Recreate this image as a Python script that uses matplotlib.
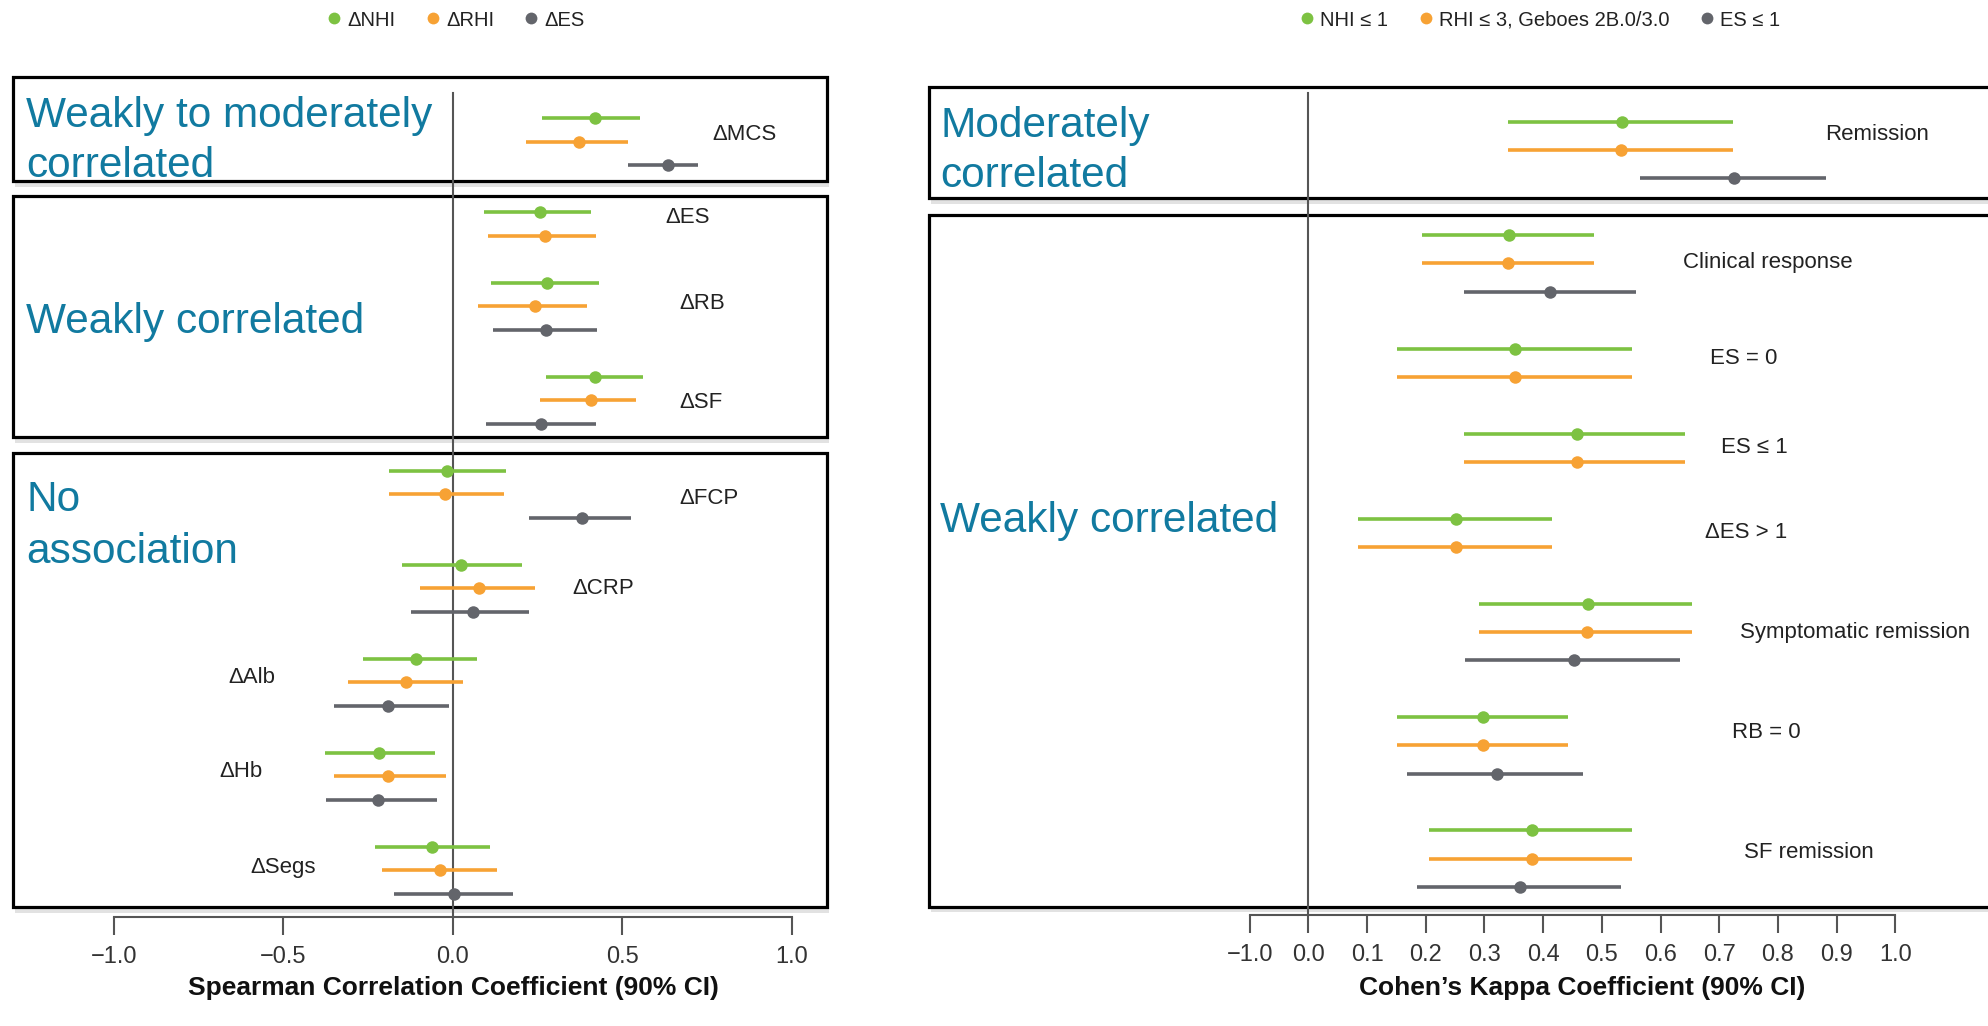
import numpy as np
import matplotlib
matplotlib.use('Agg')
import matplotlib.pyplot as plt
from matplotlib.patches import Rectangle
from matplotlib.lines import Line2D
import matplotlib.patheffects as pe

plt.rcParams['font.family'] = ['Liberation Sans', 'DejaVu Sans']

# ---------------- data ----------------
left_categories = ['ΔMCS', 'ΔES', 'ΔRB', 'ΔSF', 'ΔFCP', 'ΔCRP', 'ΔAlb', 'ΔHb', 'ΔSegs']
left_series = ['ΔNHI', 'ΔRHI', 'ΔES']
left_nhi_est = [0.421, 0.258, 0.278, 0.420, -0.018, 0.024, -0.107, -0.218, -0.061]
left_nhi_lo = [0.264, 0.092, 0.113, 0.274, -0.188, -0.150, -0.265, -0.378, -0.228]
left_nhi_hi = [0.553, 0.409, 0.431, 0.560, 0.158, 0.205, 0.071, -0.052, 0.111]
left_rhi_est = [0.374, 0.271, 0.242, 0.407, -0.022, 0.078, -0.137, -0.191, -0.038]
left_rhi_lo = [0.216, 0.103, 0.075, 0.258, -0.188, -0.097, -0.309, -0.350, -0.209]
left_rhi_hi = [0.517, 0.424, 0.397, 0.540, 0.152, 0.244, 0.030, -0.019, 0.130]
left_es_est = [0.635, np.nan, 0.274, 0.260, 0.381, 0.061, -0.192, -0.219, 0.005]
left_es_lo = [0.518, np.nan, 0.118, 0.097, 0.226, -0.122, -0.351, -0.375, -0.172]
left_es_hi = [0.724, np.nan, 0.427, 0.423, 0.525, 0.226, -0.012, -0.047, 0.179]
left_ticks = [-1.0, -0.5, 0.0, 0.5, 1.0]
left_ticklabels = ['−1.0', '−0.5', '0.0', '0.5', '1.0']
left_groups = ['Weakly to moderately\ncorrelated', 'Weakly correlated', 'No\nassociation']

right_categories = ['Remission', 'Clinical response', 'ES = 0', 'ES ≤ 1', 'ΔES > 1',
                    'Symptomatic remission', 'RB = 0', 'SF remission']
right_series = ['NHI ≤ 1', 'RHI ≤ 3, Geboes 2B.0/3.0', 'ES ≤ 1']
right_nhi_est = [0.534, 0.342, 0.352, 0.457, 0.251, 0.476, 0.297, 0.381]
right_nhi_lo = [0.341, 0.194, 0.151, 0.266, 0.084, 0.291, 0.151, 0.206]
right_nhi_hi = [0.723, 0.486, 0.552, 0.641, 0.415, 0.653, 0.442, 0.551]
right_rhi_est = [0.533, 0.341, 0.352, 0.457, 0.251, 0.475, 0.297, 0.381]
right_rhi_lo = [0.341, 0.194, 0.151, 0.266, 0.084, 0.291, 0.151, 0.206]
right_rhi_hi = [0.723, 0.486, 0.552, 0.641, 0.415, 0.653, 0.442, 0.551]
right_es_est = [0.725, 0.411, np.nan, np.nan, np.nan, 0.453, 0.321, 0.361]
right_es_lo = [0.565, 0.266, np.nan, np.nan, np.nan, 0.267, 0.168, 0.186]
right_es_hi = [0.882, 0.558, np.nan, np.nan, np.nan, 0.634, 0.468, 0.532]
right_ticks = [-0.1, 0.0, 0.1, 0.2, 0.3, 0.4, 0.5, 0.6, 0.7, 0.8, 0.9, 1.0]
right_ticklabels = ['−1.0', '0.0', '0.1', '0.2', '0.3', '0.4', '0.5', '0.6', '0.7', '0.8', '0.9', '1.0']
right_groups = ['Moderately\ncorrelated', 'Weakly correlated']

colors = ['#7dc242', '#f7a234', '#63656b']
blue = '#117aa0'

# ---------------- layout helpers ----------------
W, H = 1988, 1026
fig = plt.figure(figsize=(W / 100, H / 100), dpi=100)


def fx(px):
    return px / W


def fy(py):
    return 1 - py / H


def assign_rows(est_lists):
    n = len(est_lists[0])
    rows = [np.full(n, np.nan) for _ in est_lists]
    starts = []
    cur = 0
    for i in range(n):
        starts.append(cur)
        for s, est in enumerate(est_lists):
            if not np.isnan(est[i]):
                rows[s][i] = cur
                cur += 1
        cur += 1
    return rows, starts


def draw_series(ax, rows, est, lo, hi, color):
    rows = np.asarray(rows, float)
    est = np.asarray(est, float)
    lo = np.asarray(lo, float)
    hi = np.asarray(hi, float)
    m = ~np.isnan(est)
    ax.hlines(rows[m], lo[m], hi[m], color=color, lw=2.6, zorder=4)
    ax.plot(est[m], rows[m], 'o', color=color, ms=9, zorder=5, mec='none')


def draw_box(ax, x0, x1, y0, y1):
    r = Rectangle((x0, y0), x1 - x0, y1 - y0, fc='white', ec='black', lw=2.3,
                  zorder=1, clip_on=False,
                  path_effects=[pe.SimplePatchShadow(offset=(1.5, -4), shadow_rgbFace='#cfcfcf', alpha=0.6),
                                pe.Normal()])
    ax.add_patch(r)


def style_xaxis(ax, ticks, labels, bounds, outward_px):
    for s in ['left', 'right', 'top']:
        ax.spines[s].set_visible(False)
    ax.spines['bottom'].set_position(('outward', outward_px * 0.72))
    ax.spines['bottom'].set_bounds(*bounds)
    ax.spines['bottom'].set_color('#555555')
    ax.spines['bottom'].set_linewidth(1.5)
    ax.set_xticks(ticks)
    ax.set_xticklabels(labels)
    ax.set_yticks([])
    ax.tick_params(axis='x', direction='out', length=13, width=1.5, color='#555555',
                   labelsize=17, labelcolor='#333333', pad=8)
    ax.patch.set_alpha(0)


# ---------------- left panel ----------------
LX0, LUNIT, LROW0, LROWH = 452.7, 339.0, 118.0, 23.5
lx = lambda px: (px - LX0) / LUNIT
ly = lambda py: (py - LROW0) / LROWH

axL = fig.add_axes([fx(13), fy(907), (827 - 13) / W, (907 - 77) / H])
axL.set_xlim(lx(13), lx(827))
axL.set_ylim(ly(907), ly(77))

for (t, b) in [(77, 181), (195.5, 437.3), (452.7, 907)]:
    draw_box(axL, lx(13), lx(827), ly(t), ly(b))

rowsL, startsL = assign_rows([left_nhi_est, left_rhi_est, left_es_est])
for r, e, lo, hi, c in zip(rowsL,
                           [left_nhi_est, left_rhi_est, left_es_est],
                           [left_nhi_lo, left_rhi_lo, left_es_lo],
                           [left_nhi_hi, left_rhi_hi, left_es_hi], colors):
    draw_series(axL, r, e, lo, hi, c)

axL.plot([0, 0], [ly(93), ly(916.7)], color='#555555', lw=1.5, zorder=3, clip_on=False)

left_label_x = [0.765, 0.626, 0.668, 0.668, 0.668, 0.352, -0.663, -0.689, -0.598]
left_label_off = [0.72, 0.24, 0.9, 1.1, 1.2, 1.0, 0.8, 0.8, 0.9]
for cat, xx, off, st in zip(left_categories, left_label_x, left_label_off, startsL):
    axL.text(xx, st + off, cat, ha='left', va='center', fontsize=16, color='#222222', zorder=6)

style_xaxis(axL, left_ticks, left_ticklabels, (-1, 1), 9.7)

# ---------------- right panel ----------------
RX0, RUNIT, RROW0, RROWH = 1308.3, 587.0, 121.7, 28.35
rx = lambda px: (px - RX0) / RUNIT
ry = lambda py: (py - RROW0) / RROWH

axR = fig.add_axes([fx(929), fy(906.7), (1988 - 929) / W, (906.7 - 87) / H])
axR.set_xlim(rx(929), rx(1988))
axR.set_ylim(ry(906.7), ry(87))

for (t, b) in [(87, 198.3), (215, 906.7)]:
    draw_box(axR, rx(929), rx(2010), ry(t), ry(b))

rowsR, startsR = assign_rows([right_nhi_est, right_rhi_est, right_es_est])
for r, e, lo, hi, c in zip(rowsR,
                           [right_nhi_est, right_rhi_est, right_es_est],
                           [right_nhi_lo, right_rhi_lo, right_es_lo],
                           [right_nhi_hi, right_rhi_hi, right_es_hi], colors):
    draw_series(axR, r, e, lo, hi, c)

axR.plot([0, 0], [ry(93.3), ry(915)], color='#555555', lw=1.5, zorder=3, clip_on=False)

right_label_x = [0.880, 0.638, 0.684, 0.703, 0.675, 0.736, 0.721, 0.742]
right_label_off = [0.45, 0.98, 0.35, 0.49, 0.5, 1.0, 0.53, 0.77]
for cat, xx, off, st in zip(right_categories, right_label_x, right_label_off, startsR):
    axR.text(xx, st + off, cat, ha='left', va='center', fontsize=16, color='#222222', zorder=6)

style_xaxis(axR, right_ticks, right_ticklabels, (-0.1, 1.0), 8.3)

# ---------------- group labels ----------------
GFS = 30.5
fig.text(fx(26), fy(126.7), left_groups[0].split('\n')[0], fontsize=GFS, color=blue, va='baseline')
fig.text(fx(26), fy(176.7), left_groups[0].split('\n')[1], fontsize=GFS, color=blue, va='baseline')
fig.text(fx(26), fy(333.5), left_groups[1], fontsize=GFS, color=blue, va='baseline')
fig.text(fx(26), fy(510.7), left_groups[2].split('\n')[0], fontsize=GFS, color=blue, va='baseline')
fig.text(fx(26), fy(562.7), left_groups[2].split('\n')[1], fontsize=GFS, color=blue, va='baseline')

fig.text(fx(940), fy(137), right_groups[0].split('\n')[0], fontsize=GFS, color=blue, va='baseline')
fig.text(fx(940), fy(187), right_groups[0].split('\n')[1], fontsize=GFS, color=blue, va='baseline')
fig.text(fx(940), fy(532), right_groups[1], fontsize=GFS, color=blue, va='baseline')

# ---------------- legends ----------------
def make_legend(labels, cx):
    handles = [Line2D([], [], ls='', marker='o', color=c, ms=8.5, mec='none') for c in colors]
    leg = fig.legend(handles, labels, loc='center', bbox_to_anchor=(fx(cx), fy(20)),
                     bbox_transform=fig.transFigure, ncol=3, frameon=False, fontsize=14.5,
                     handlelength=0.7, handletextpad=0.3, columnspacing=1.5,
                     borderaxespad=0, borderpad=0)
    for t in leg.get_texts():
        t.set_color('#222222')
    return leg

make_legend(left_series, 456)
make_legend(right_series, 1540)

# ---------------- axis titles ----------------
fig.text(fx(453), fy(988), 'Spearman Correlation Coefficient (90% CI)', ha='center', va='center',
         fontsize=19, fontweight='bold', color='#111111')
fig.text(fx(1582), fy(988), 'Cohen’s Kappa Coefficient (90% CI)', ha='center', va='center',
         fontsize=19, fontweight='bold', color='#111111')

fig.savefig('out.png', dpi=100, facecolor='white')
